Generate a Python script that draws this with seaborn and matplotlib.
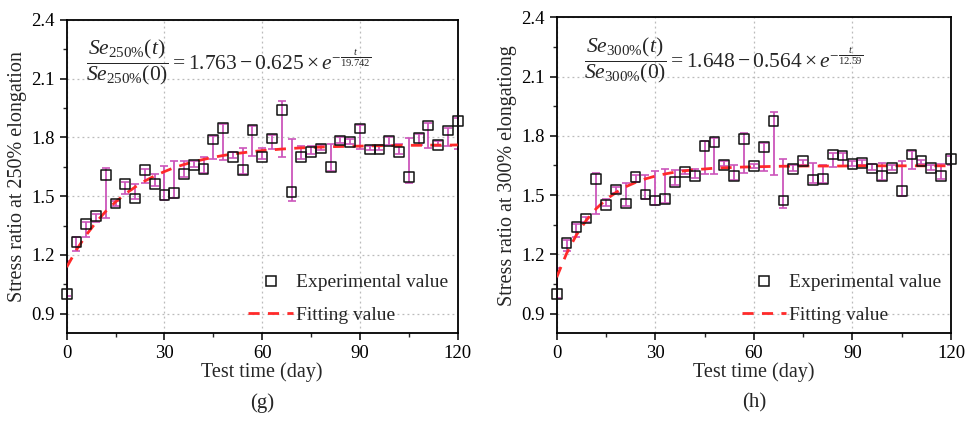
import numpy as np
import pandas as pd
import matplotlib
matplotlib.use("Agg")
import matplotlib.pyplot as plt
import seaborn as sns
from matplotlib.lines import Line2D
from matplotlib.ticker import MultipleLocator, FormatStrFormatter

# ---------------- data ----------------
days = [0, 3, 6, 9, 12, 15, 18, 21, 24, 27, 30, 33, 36, 39, 42, 45, 48, 51, 54, 57,
        60, 63, 66, 69, 72, 75, 78, 81, 84, 87, 90, 93, 96, 99, 102, 105, 108, 111,
        114, 117, 120]

# (g) 250% elongation
exp_250 = [1.000, 1.268, 1.358, 1.400, 1.608, 1.463, 1.564, 1.488, 1.634, 1.564,
           1.505, 1.515, 1.615, 1.659, 1.641, 1.790, 1.849, 1.700, 1.632, 1.839,
           1.700, 1.795, 1.942, 1.522, 1.700, 1.727, 1.744, 1.649, 1.785, 1.778,
           1.846, 1.739, 1.739, 1.781, 1.727, 1.600, 1.798, 1.861, 1.761, 1.836,
           1.883]
bar_lo_250 = [0.990, 1.220, 1.293, 1.366, 1.388, 1.450, 1.510, 1.485, 1.570, 1.552,
              1.480, 1.493, 1.598, 1.650, 1.620, 1.688, 1.685, 1.695, 1.612, 1.708,
              1.688, 1.739, 1.702, 1.476, 1.688, 1.718, 1.735, 1.627, 1.770, 1.765,
              1.739, 1.735, 1.735, 1.760, 1.717, 1.570, 1.764, 1.748, 1.755, 1.756,
              1.739]
bar_hi_250 = [1.171, 1.290, 1.369, 1.408, 1.642, 1.475, 1.575, 1.561, 1.637, 1.612,
              1.654, 1.680, 1.680, 1.680, 1.700, 1.807, 1.870, 1.725, 1.748, 1.857,
              1.748, 1.815, 1.985, 1.793, 1.756, 1.756, 1.760, 1.765, 1.800, 1.790,
              1.866, 1.757, 1.757, 1.800, 1.768, 1.798, 1.820, 1.875, 1.780, 1.850,
              1.900]
fit_250 = [1.138, 1.226, 1.302, 1.367, 1.423, 1.471, 1.512, 1.547, 1.578, 1.604,
           1.626, 1.646, 1.662, 1.676, 1.688, 1.699, 1.708, 1.716, 1.722, 1.728,
           1.733, 1.737, 1.741, 1.744, 1.747, 1.749, 1.751, 1.753, 1.754, 1.755,
           1.756, 1.757, 1.758, 1.759, 1.759, 1.760, 1.760, 1.761, 1.761, 1.761,
           1.762]

# (h) 300% elongation
exp_300 = [1.001, 1.259, 1.339, 1.381, 1.582, 1.449, 1.528, 1.457, 1.592, 1.503,
           1.472, 1.481, 1.567, 1.615, 1.595, 1.747, 1.769, 1.654, 1.595, 1.785,
           1.646, 1.742, 1.876, 1.472, 1.632, 1.671, 1.578, 1.582, 1.705, 1.700,
           1.657, 1.663, 1.634, 1.595, 1.637, 1.519, 1.705, 1.671, 1.637, 1.595,
           1.683]
bar_lo_300 = [0.981, 1.216, 1.287, 1.365, 1.402, 1.443, 1.510, 1.443, 1.565, 1.482,
              1.449, 1.460, 1.553, 1.605, 1.587, 1.607, 1.607, 1.645, 1.578, 1.612,
              1.636, 1.620, 1.604, 1.435, 1.622, 1.650, 1.562, 1.562, 1.640, 1.645,
              1.647, 1.650, 1.625, 1.578, 1.627, 1.494, 1.634, 1.655, 1.627, 1.583,
              1.650]
bar_hi_300 = [1.132, 1.270, 1.351, 1.390, 1.612, 1.482, 1.540, 1.562, 1.600, 1.604,
              1.624, 1.634, 1.629, 1.625, 1.634, 1.772, 1.789, 1.670, 1.650, 1.814,
              1.656, 1.764, 1.923, 1.684, 1.650, 1.680, 1.663, 1.650, 1.713, 1.713,
              1.670, 1.675, 1.655, 1.663, 1.650, 1.674, 1.721, 1.680, 1.650, 1.658,
              1.700]
fit_300 = [1.084, 1.204, 1.298, 1.372, 1.431, 1.477, 1.513, 1.542, 1.564, 1.582,
           1.596, 1.607, 1.616, 1.623, 1.628, 1.632, 1.636, 1.638, 1.640, 1.642,
           1.643, 1.644, 1.645, 1.646, 1.646, 1.647, 1.647, 1.647, 1.647, 1.647,
           1.648, 1.648, 1.648, 1.648, 1.648, 1.648, 1.648, 1.648, 1.648, 1.648,
           1.648]

ylabels = ["Stress ratio at 250% elongation", "Stress ratio at 300% elongationg"]
captions = ["(g)", "(h)"]
formulas = [r"$\dfrac{Se_{250\%}(t)}{Se_{250\%}(0)}=1.763-0.625\times e^{-\frac{t}{19.742}}$",
            r"$\dfrac{Se_{300\%}(t)}{Se_{300\%}(0)}=1.648-0.564\times e^{-\frac{t}{12.59}}$"]
formula_x = [0.05, 0.07]
legend_labels = ["Experimental value", "Fitting value"]

# ---------------- style ----------------
sns.set_style("ticks")
plt.rcParams["font.family"] = ["Liberation Serif", "DejaVu Serif"]
plt.rcParams["mathtext.fontset"] = "custom"
plt.rcParams["mathtext.rm"] = "Liberation Serif"
plt.rcParams["mathtext.it"] = "Liberation Serif:italic"
plt.rcParams["mathtext.bf"] = "Liberation Serif:bold"
plt.rcParams["mathtext.fallback"] = "stix"

fig = plt.figure(figsize=(9.65, 4.21), dpi=100)
ax_pos = [[0.0691, 0.2083, 0.4052, 0.7442], [0.5769, 0.2083, 0.4086, 0.7506]]

panels = [(exp_250, bar_lo_250, bar_hi_250, fit_250),
          (exp_300, bar_lo_300, bar_hi_300, fit_300)]

bar_color = "#CC55BB"
fit_color = "#FF2A2A"

for i, (ev, lo, hi, fv) in enumerate(panels):
    ax = fig.add_axes(ax_pos[i])
    df = pd.DataFrame({"day": days, "value": ev, "lo": lo, "hi": hi, "fit": fv})
    yerr = np.vstack([df["value"] - df["lo"], df["hi"] - df["value"]])
    ax.errorbar(df["day"], df["value"], yerr=yerr, fmt="none", ecolor=bar_color,
                elinewidth=1.3, capsize=3, capthick=1.2, zorder=2, clip_on=True)
    sns.lineplot(data=df, x="day", y="fit", ax=ax, color=fit_color, lw=2.0,
                 linestyle=(0, (4, 3)), zorder=3)
    sns.scatterplot(data=df, x="day", y="value", ax=ax, marker="s", s=50,
                    facecolor="none", edgecolor="#111111", linewidth=1.1, zorder=4,
                    clip_on=False)

    ax.set_xlim(0, 120)
    ax.xaxis.set_major_locator(MultipleLocator(30))
    ax.xaxis.set_minor_locator(MultipleLocator(15))
    ax.yaxis.set_major_locator(MultipleLocator(0.3))
    ax.yaxis.set_minor_locator(MultipleLocator(0.15))
    ax.yaxis.set_major_formatter(FormatStrFormatter("%.1f"))
    ax.set_yticks([0.9, 1.2, 1.5, 1.8, 2.1, 2.4])
    ax.set_ylim(0.8, 2.4)
    ax.grid(True, which="major", linestyle=(0, (1.5, 2.5)), color="#bbbbbb", lw=0.9)
    ax.tick_params(which="major", direction="out", length=5, width=1.1,
                   labelsize=13.5, colors="black")
    ax.tick_params(which="minor", direction="out", length=3, width=1.0)
    for sp in ax.spines.values():
        sp.set_visible(True)
        sp.set_linewidth(1.3)
        sp.set_color("black")
    ax.set_xlabel("Test time (day)", fontsize=14.5, labelpad=0)
    ax.set_ylabel(ylabels[i], fontsize=14.5, labelpad=3)

    ax.text(formula_x[i], 0.865, formulas[i], transform=ax.transAxes, fontsize=15.5,
            va="center", ha="left")

    handles = [Line2D([], [], marker="s", ls="none", mfc="none", mec="#111111",
                      mew=1.1, ms=7),
               Line2D([], [], color=fit_color, lw=2.0, ls=(0, (4, 3)))]
    ax.legend(handles, legend_labels, loc="lower right", frameon=False,
              fontsize=14, handlelength=2.3, handletextpad=0.15,
              labelspacing=0.75, borderaxespad=0.1, bbox_to_anchor=(1.0, 0.0))

    cx = ax_pos[i][0] + ax_pos[i][2] / 2
    fig.text(cx, 0.043, captions[i], ha="center", va="center", fontsize=15)

fig.savefig("out.png", dpi=100)
